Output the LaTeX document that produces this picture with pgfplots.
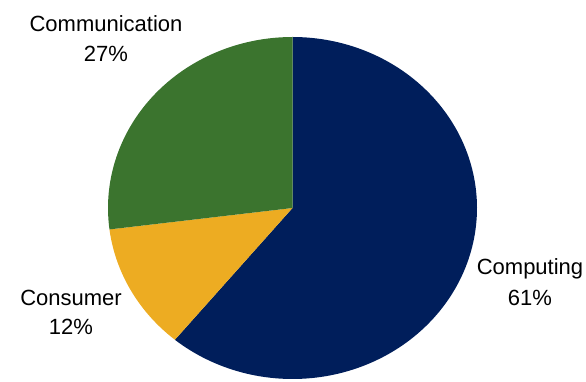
\documentclass[border=0pt]{standalone}
\usepackage{pgfplots}
\pgfplotsset{compat=1.18}
\usepackage{fontspec}
\setmainfont{Liberation Sans}
\definecolor{cnavy}{RGB}{0,30,91}
\definecolor{cgreen}{RGB}{59,116,46}
\definecolor{cgold}{RGB}{237,172,34}
% shares: Computing 61, Consumer 12, Communication 27 (percent)
% slice angles (clockwise from top): 90 -> -129.6 -> -172.8 -> -270
\begin{document}
\begin{tikzpicture}
\begin{axis}[
  width=586pt, height=382pt, scale only axis,
  xmin=0, xmax=586, ymin=0, ymax=382,
  hide axis, clip=false,
]
\path (axis cs:0,0) rectangle (axis cs:586,382);
\addplot[draw=none, fill=cnavy, domain=90:-129.6, samples=150, variable=\t]
  ({292.5+184.5*cos(t)},{174+171*sin(t)}) -- (axis cs:292.5,174) -- cycle;
\addplot[draw=none, fill=cgold, domain=-129.6:-172.8, samples=40, variable=\t]
  ({292.5+184.5*cos(t)},{174+171*sin(t)}) -- (axis cs:292.5,174) -- cycle;
\addplot[draw=none, fill=cgreen, domain=-172.8:-270, samples=80, variable=\t]
  ({292.5+184.5*cos(t)},{174+171*sin(t)}) -- (axis cs:292.5,174) -- cycle;
\node[anchor=base, font=\fontsize{22}{26}\selectfont, inner sep=0pt] at (axis cs:106,350) {Communication};
\node[anchor=base, font=\fontsize{22}{26}\selectfont, inner sep=0pt] at (axis cs:106,320) {27\%};
\node[anchor=base, font=\fontsize{22}{26}\selectfont, inner sep=0pt] at (axis cs:71,76) {Consumer};
\node[anchor=base, font=\fontsize{22}{26}\selectfont, inner sep=0pt] at (axis cs:71,47) {12\%};
\node[anchor=base, font=\fontsize{22}{26}\selectfont, inner sep=0pt] at (axis cs:530,107) {Computing};
\node[anchor=base, font=\fontsize{22}{26}\selectfont, inner sep=0pt] at (axis cs:530,76) {61\%};
\end{axis}
\end{tikzpicture}
\end{document}
